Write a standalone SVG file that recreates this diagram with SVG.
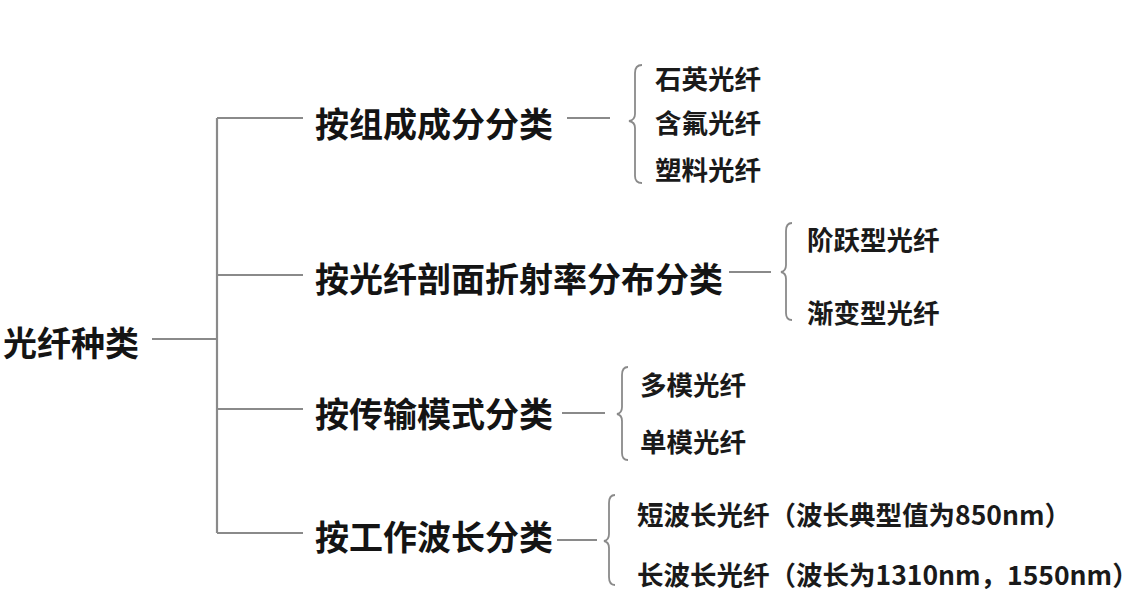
<svg xmlns="http://www.w3.org/2000/svg" width="1143" height="616" viewBox="0 0 1143 616">
<style>
.ln{stroke:#8a8a8a;stroke-width:2.2;fill:none}
.br{stroke:#8a8a8a;stroke-width:1.8;fill:none}
.big{font-family:"Noto Sans CJK SC","Noto Sans",sans-serif;font-weight:bold;font-size:34px;fill:#141414;dominant-baseline:central}
.sm{font-family:"Noto Sans CJK SC","Noto Sans",sans-serif;font-weight:bold;font-size:26.5px;fill:#1a1a1a;dominant-baseline:central}
</style>
<rect width="1143" height="616" fill="#ffffff"/>
<g id="connectors">
<line class="ln" x1="152" y1="339" x2="217" y2="339"/>
<line class="ln" x1="217" y1="118" x2="217" y2="533"/>
<line class="ln" x1="217" y1="118" x2="303" y2="118"/>
<line class="ln" x1="217" y1="275" x2="303" y2="275"/>
<line class="ln" x1="217" y1="409" x2="303" y2="409"/>
<line class="ln" x1="217" y1="533" x2="303" y2="533"/>
<line class="ln" x1="567" y1="118" x2="610" y2="118"/>
<line class="ln" x1="729" y1="272" x2="771" y2="272"/>
<line class="ln" x1="562" y1="413" x2="605" y2="413"/>
<line class="ln" x1="557" y1="540" x2="597" y2="540"/>
<path class="br" d="M642,65 Q635,65 635,73 L635,114 Q635,120 629,121 Q635,122 635,128 L635,176 Q635,183 642,183"/>
<path class="br" d="M792,223 Q786,223 786,231 L786,265 Q786,271 781,272 Q786,273 786,279 L786,313 Q786,320 792,320"/>
<path class="br" d="M628,367 Q622,367 622,375 L622,407 Q622,413 617,414 Q622,415 622,421 L622,453 Q622,460 628,460"/>
<path class="br" d="M615,495 Q609,495 609,503 L609,534 Q609,540 604,541 Q609,542 609,548 L609,577 Q609,585 615,585"/>
</g>
<g id="root"><text class="big" x="3" y="341">光纤种类</text></g>
<g id="cat1"><text class="big" x="315" y="122">按组成成分分类</text></g>
<g id="cat2"><text class="big" x="315" y="277">按光纤剖面折射率分布分类</text></g>
<g id="cat3"><text class="big" x="315" y="412">按传输模式分类</text></g>
<g id="cat4"><text class="big" x="315" y="535">按工作波长分类</text></g>
<g id="item-quartz"><text class="sm" x="655" y="77">石英光纤</text></g>
<g id="item-fluorine"><text class="sm" x="655" y="121">含氟光纤</text></g>
<g id="item-plastic"><text class="sm" x="655" y="168">塑料光纤</text></g>
<g id="item-step"><text class="sm" x="807" y="238">阶跃型光纤</text></g>
<g id="item-graded"><text class="sm" x="807" y="311">渐变型光纤</text></g>
<g id="item-multi"><text class="sm" x="640" y="383">多模光纤</text></g>
<g id="item-single"><text class="sm" x="640" y="440">单模光纤</text></g>
<g id="item-short"><text class="sm" x="637" y="513">短波长光纤（波长典型值为850nm）</text></g>
<g id="item-long"><text class="sm" x="637" y="573">长波长光纤（波长为1310nm，1550nm）</text></g>
</svg>
